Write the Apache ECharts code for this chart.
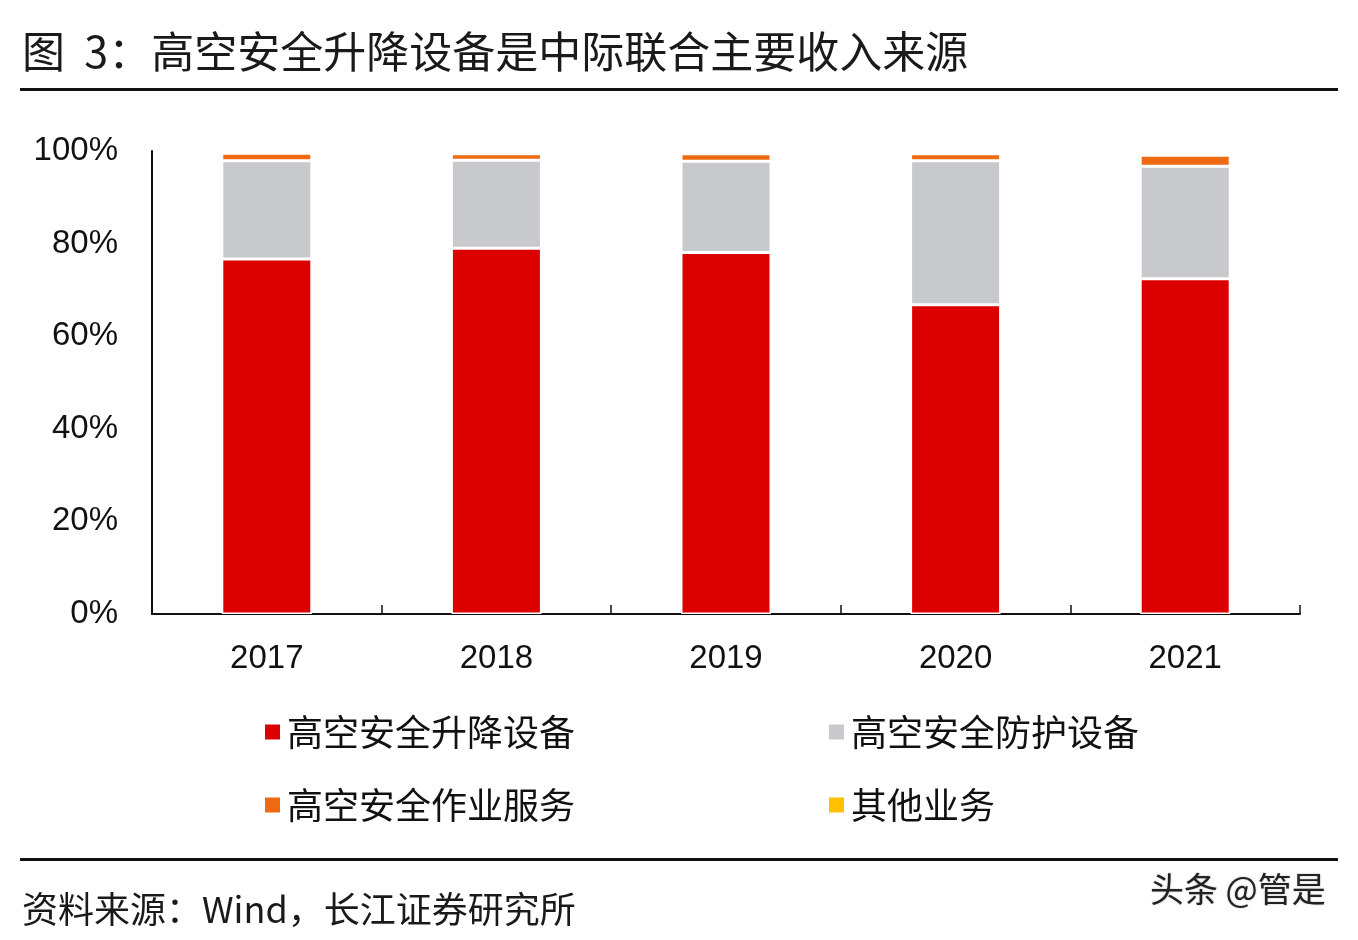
<!DOCTYPE html>
<html>
<head>
<meta charset="utf-8">
<script src="https://cdn.jsdelivr.net/npm/echarts@6/dist/echarts.min.js"></script>
<style>html,body{margin:0;padding:0;background:#fff}#c{width:1358px;height:940px}</style>
</head>
<body>
<div id="c"></div>
<script>
const categories = ['2017', '2018', '2019', '2020', '2021'];
const liftEquip = [76.7, 79.0, 78.1, 66.8, 72.4];
const protectEquip = [21.2, 19.0, 19.7, 31.1, 24.3];
const workService = [1.6, 1.4, 1.6, 1.5, 2.4];
const otherBiz = [0.2, 0.2, 0.2, 0.2, 0.3];
const seriesNames = ['高空安全升降设备', '高空安全防护设备', '高空安全作业服务', '其他业务'];
const yTicks = [0, 20, 40, 60, 80, 100];

const colors = ['#DD0000', '#C8C9CC', '#EE6A12', '#FFC000'];
const cjk = '"Noto Sans CJK SC", "Liberation Sans", sans-serif';
const num = '"Liberation Sans", Arial, sans-serif';

const chart = echarts.init(document.getElementById('c'));
const dataArr = [liftEquip, protectEquip, workService, otherBiz];

const legendPos = [[258, 709], [822, 709], [258, 782], [822, 782]];
const legends = seriesNames.map((n, i) => ({
  data: [n], left: legendPos[i][0], top: legendPos[i][1],
  itemWidth: 17, itemHeight: 17, itemGap: 0,
  icon: 'rect',
  textStyle: { fontFamily: cjk, fontSize: 36, color: '#111', padding: [0, 0, 0, 1] },
  selectedMode: false
}));

chart.setOption({
  animation: false,
  color: colors,
  grid: { left: 152, right: 58, top: 151, bottom: 326, containLabel: false },
  legend: legends,
  xAxis: {
    type: 'category', data: categories,
    axisLine: { lineStyle: { color: '#111', width: 2 } },
    axisTick: { show: true, inside: true, length: 9, lineStyle: { color: '#111', width: 1.5 } },
    axisLabel: { fontFamily: num, fontSize: 33, color: '#111', margin: 28 }
  },
  yAxis: {
    type: 'value', min: 0, max: 100, interval: 20,
    axisLine: { show: true, lineStyle: { color: '#111', width: 2 } },
    axisTick: { show: false },
    splitLine: { show: false },
    axisLabel: {
      fontFamily: num, fontSize: 33, color: '#111', margin: 34,
      formatter: v => yTicks.includes(v) ? v + '%' : ''
    }
  },
  series: seriesNames.map((n, i) => ({
    name: n, type: 'bar', stack: 'total', barWidth: 90,
    data: dataArr[i],
    itemStyle: { color: colors[i], borderColor: '#fff', borderWidth: 1.5 }
  })),
  graphic: [
    { type: 'text', left: 22, top: 30, style: { text: '图  3：高空安全升降设备是中际联合主要收入来源', fontFamily: cjk, fontSize: 43, fill: '#1a1a1a' } },
    { type: 'rect', shape: { x: 20, y: 88, width: 1318, height: 3 }, style: { fill: '#111' } },
    { type: 'rect', shape: { x: 20, y: 858, width: 1318, height: 3 }, style: { fill: '#111' } },
    { type: 'text', left: 22, top: 891, style: { text: '资料来源：Wind，长江证券研究所', fontFamily: cjk, fontSize: 36, fill: '#1a1a1a' } },
    { type: 'text', left: 1150, top: 872, style: { text: '头条 @管是', fontFamily: cjk, fontSize: 34, fill: '#222', textShadowColor: 'rgba(0,0,0,0.3)', textShadowBlur: 2 } }
  ]
});
</script>
</body>
</html>
